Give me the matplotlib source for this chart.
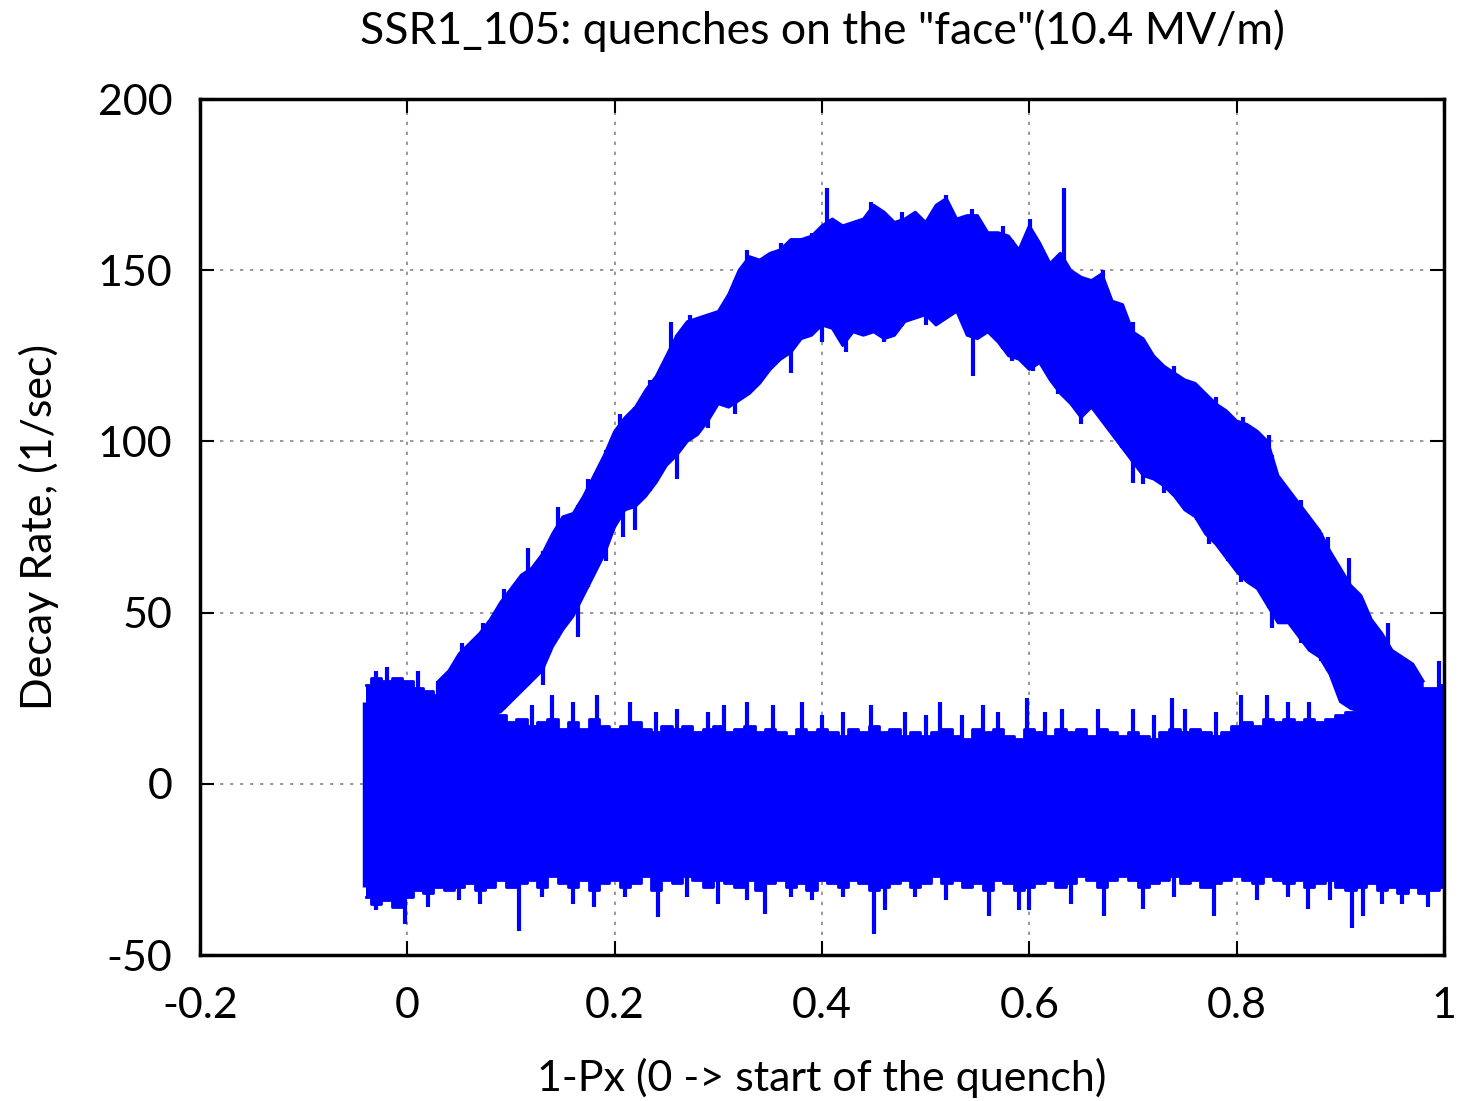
import numpy as np
import matplotlib
matplotlib.use("Agg")
import matplotlib.pyplot as plt

plt.rcParams['font.family'] = ['Lato', 'DejaVu Sans']
plt.rcParams['axes.unicode_minus'] = False

# envelope of the flat (no quench) traces, sampled every 0.01 in 1-Px
base_x = np.round(np.arange(-0.04, 1.0001, 0.01), 2)
base_top = [29, 31, 30, 31, 30, 28, 27, 26, 27, 26,
            25, 24, 22, 20, 18, 19, 17, 18, 19, 16,
            18, 16, 19, 17, 16, 17, 18, 16, 15, 17,
            16, 17, 15, 16, 17, 15, 16, 17, 15, 16,
            15, 14, 16, 15, 16, 15, 14, 16, 15, 17,
            15, 16, 14, 15, 14, 15, 16, 14, 13, 16,
            15, 16, 14, 13, 16, 15, 14, 16, 15, 16,
            14, 16, 15, 14, 15, 14, 13, 15, 16, 15,
            16, 15, 14, 15, 17, 18, 17, 19, 18, 19,
            18, 19, 18, 19, 20, 21, 23, 24, 25, 26,
            26, 27, 28, 28, 29]
base_bot = [-33, -35, -34, -36, -33, -31, -32, -30, -31, -30,
            -29, -31, -30, -28, -30, -29, -28, -30, -27, -29,
            -30, -28, -31, -29, -28, -30, -29, -27, -31, -28,
            -29, -27, -28, -30, -28, -29, -30, -28, -31, -29,
            -28, -30, -29, -31, -28, -29, -30, -28, -29, -31,
            -30, -29, -28, -30, -29, -27, -29, -28, -30, -29,
            -31, -28, -29, -31, -30, -29, -28, -30, -29, -27,
            -28, -30, -28, -27, -28, -30, -29, -28, -27, -29,
            -28, -30, -29, -28, -27, -28, -29, -27, -28, -29,
            -28, -30, -29, -28, -30, -31, -30, -29, -31, -30,
            -32, -30, -32, -31, -30]

# narrow excursions of the flat traces
up_x = [-0.03, -0.02, 0.01, 0.03, 0.12, 0.14, 0.16, 0.183, 0.215, 0.24,
        0.26, 0.29, 0.305, 0.328, 0.353, 0.381, 0.40, 0.42, 0.447, 0.48,
        0.50, 0.514, 0.535, 0.555, 0.57, 0.598, 0.615, 0.632, 0.666, 0.70,
        0.72, 0.738, 0.75, 0.78, 0.804, 0.829, 0.85, 0.87, 0.995]
up_y = [33, 34, 33, 30, 23, 26, 24, 26, 24, 21,
        22, 21, 23, 24, 23, 24, 20, 21, 23, 21,
        20, 24, 20, 23, 21, 25, 21, 22, 22, 22,
        20, 25, 22, 21, 26, 26, 24, 24, 36]
dn_x = [-0.03, -0.002, 0.02, 0.05, 0.07, 0.108, 0.13, 0.16, 0.18, 0.21,
        0.242, 0.27, 0.30, 0.328, 0.345, 0.37, 0.39, 0.42, 0.45, 0.461,
        0.49, 0.52, 0.561, 0.59, 0.60, 0.64, 0.672, 0.71, 0.74, 0.778,
        0.82, 0.85, 0.869, 0.89, 0.911, 0.922, 0.94, 0.96, 0.985]
dn_y = [-37, -41, -36, -34, -35, -43, -33, -35, -36, -33,
        -39, -33, -35, -34, -38, -33, -34, -33, -44, -37,
        -33, -34, -38.5, -37, -37, -35, -38.6, -36.6, -33, -38.6,
        -34, -33, -36.6, -34, -42, -38.6, -35, -35, -36]

# envelope of the quench traces
arc_x = np.round(np.arange(0.03, 0.9801, 0.01), 2)
arc_top = [30, 33, 38, 41, 44, 48, 53, 57, 61, 63,
           67, 73, 78, 79, 84, 90, 96, 103, 107, 110,
           115, 119, 125, 131, 135, 136, 137, 138, 143, 150,
           154, 153, 155, 156, 159, 159, 160, 163, 165, 163,
           164, 165, 169, 167, 164, 165, 167, 164, 169, 171,
           165, 166, 166, 161, 161, 160, 156, 163, 158, 152,
           155, 150, 148, 147, 149, 141, 140, 132, 130, 125,
           122, 120, 118, 117, 114, 111, 109, 106, 105, 103,
           100, 90, 86, 82, 78, 74, 68, 63, 58, 55,
           48, 44, 39, 37, 35, 30]
arc_bot = [20, 20, 20, 20, 20, 20, 21, 24, 27, 30,
           33, 40, 45, 49, 55, 61, 67, 75, 80, 81,
           84, 88, 93, 96, 100, 102, 106, 111, 110, 112,
           114, 117, 121, 124, 126, 130, 131, 134, 133, 128,
           132, 131, 132, 130, 131, 135, 136, 137, 134, 136,
           138, 131, 130, 132, 129, 125, 124, 121, 123, 118,
           114, 111, 107, 110, 106, 102, 98, 94, 90, 89,
           87, 84, 80, 78, 73, 70, 66, 62, 59, 57,
           52, 47, 47, 43, 39, 37, 32, 24, 22, 21,
           21, 21, 21, 21, 21, 21]

# narrow excursions of the quench traces
arc_up_x = [0.053, 0.073, 0.093, 0.116, 0.131, 0.145, 0.174, 0.205, 0.234, 0.254,
            0.273, 0.302, 0.328, 0.36, 0.39, 0.405, 0.447, 0.477, 0.52, 0.545,
            0.575, 0.601, 0.633, 0.671, 0.70, 0.74, 0.78, 0.806, 0.831, 0.862,
            0.888, 0.908, 0.946]
arc_up_y = [41, 47, 57, 69, 68, 81, 89, 108, 118, 135,
            137, 137, 156, 158, 161, 174, 170, 167, 172, 168,
            163, 165, 174, 150, 135, 122, 113, 107, 102, 83,
            72, 66, 47]
arc_dn_x = [0.116, 0.131, 0.165, 0.192, 0.208, 0.22, 0.26, 0.29, 0.316, 0.37,
            0.40, 0.423, 0.46, 0.50, 0.546, 0.583, 0.604, 0.628, 0.65, 0.689,
            0.70, 0.71, 0.73, 0.762, 0.773, 0.792, 0.804, 0.834, 0.862, 0.881]
arc_dn_y = [29, 29, 43, 65, 72, 74, 89, 104, 108, 120,
            129, 126, 129, 134, 119, 123.5, 120.6, 114, 105, 98,
            88, 87.6, 85, 77, 70, 65, 59, 45.6, 41, 36]

blue = '#0000ff'

fig = plt.figure(figsize=(14.6, 11.01), dpi=100)
ax = fig.add_axes([0.137, 0.1326, 0.852, 0.7774])

# flat traces
ax.fill_between(base_x, base_bot, base_top, step='mid', color=blue, lw=0)
ax.step(base_x, base_top, where='mid', color=blue, lw=2)
ax.step(base_x, base_bot, where='mid', color=blue, lw=2)
ax.vlines(up_x, 0, up_y, color=blue, lw=3)
ax.vlines(dn_x, dn_y, 0, color=blue, lw=3)
ax.vlines([-0.042], -30, 24, color=blue, lw=2.5)

# quench traces
ax.fill_between(arc_x, arc_bot, arc_top, color=blue, lw=0)
ax.plot(arc_x, arc_top, color=blue, lw=2)
ax.plot(arc_x, arc_bot, color=blue, lw=2)
ax.vlines(arc_up_x, np.interp(arc_up_x, arc_x, arc_bot), arc_up_y, color=blue, lw=3)
ax.vlines(arc_dn_x, arc_dn_y, np.interp(arc_dn_x, arc_x, arc_top), color=blue, lw=3)

ax.set_xlim(-0.2, 1.0)
ax.set_ylim(-50, 200)
ax.set_xticks([-0.2, 0, 0.2, 0.4, 0.6, 0.8, 1])
ax.set_xticklabels(['-0.2', '0', '0.2', '0.4', '0.6', '0.8', '1'])
ax.set_yticks([-50, 0, 50, 100, 150, 200])
ax.grid(True, color='#888888', linestyle=(0, (2, 4)), lw=1.2)
ax.set_axisbelow(True)
ax.tick_params(direction='in', length=10, width=1.5, top=True, right=True,
               labelsize=31)
ax.tick_params(axis='x', pad=23)
ax.tick_params(axis='y', pad=20)
for sp in ax.spines.values():
    sp.set_linewidth(2.5)

ax.set_title('SSR1_105: quenches on the "face"(10.4 MV/m)', fontsize=32, pad=40)
ax.set_xlabel('1-Px (0 -> start of the quench)', fontsize=31, labelpad=24)
ax.set_ylabel('Decay Rate, (1/sec)', fontsize=31, labelpad=28)

fig.savefig('out.png', dpi=100)
